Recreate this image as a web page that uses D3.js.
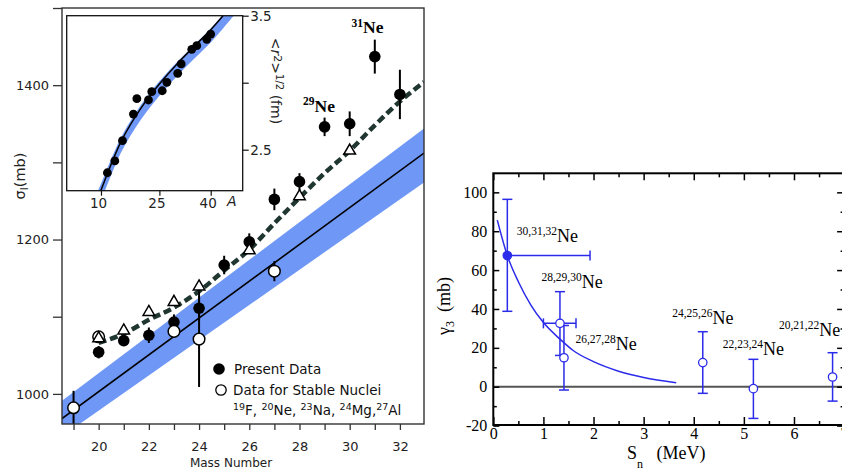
<!DOCTYPE html>
<html><head><meta charset="utf-8">
<script src="https://cdn.jsdelivr.net/npm/d3@7"></script>
<style>body{margin:0;background:#fff}svg{display:block}</style>
</head><body>
<svg id="c" width="842" height="471"></svg>
<script>
// ---------- Left chart data (interaction cross sections) ----------
const presentA     = [20,21,22,23,24,25,26,27,28,29,30,31,32];
const presentSigma = [1054,1069,1076,1093,1111,1167,1197,1252,1275,1346,1350,1437,1388];
const presentErr   = [8,7,10,10,16,12,11,14,11,12,16,22,32];
const stableA      = [19,20,23,24,27];
const stableSigma  = [982,1074,1081,1071,1159];
const stableErr    = [22,6,8,62,13];
const calcA        = [20,21,22,23,24,26,28,30];
const calcSigma    = [1072,1082,1106,1119,1139,1186,1256,1315];
const dashA        = [20,21,22,23,24,25,26,27,28,29,30,31,32,32.96];
const dashSigma    = [1066,1078,1096,1112,1133,1160,1187,1221,1254,1286,1315,1348,1379,1404];
const fitA         = [18.54,32.96];
const fitSigma     = [968,1312];
const bandLow      = [945,1274];
const bandHigh     = [991,1344];
const yTicksL      = [1000,1100,1200,1300,1400,1500];
const yLabelsL     = [1000,1200,1400];
const xTicksL      = [19,20,21,22,23,24,25,26,27,28,29,30,31,32];
const xLabelsL     = [20,22,24,26,28,30,32];

// ---------- Inset data (rms radii) ----------
const insetA = [11.5,13.3,15.2,18.0,18.9,22.0,22.9,25.8,27.1,30.2,31.2,34.3,35.8,38.8,40.0];
const insetR = [2.328,2.416,2.567,2.766,2.881,2.871,2.933,2.940,3.003,3.070,3.140,3.249,3.276,3.324,3.363];
const insetCurveA = [9,10,12,15,20,25,30,35,40,43.8,48];
const insetCurveR = [2.12,2.199,2.36,2.57,2.81,2.99,3.14,3.27,3.395,3.50,3.62];
const insetBandHi = [2.17,2.245,2.40,2.60,2.835,3.01,3.155,3.282,3.405,3.51,3.63];
const insetBandLo = [2.04,2.12,2.28,2.488,2.725,2.902,3.05,3.178,3.30,3.405,3.525];
const insetYTicks = [2.5,3.0,3.5];
const insetYLabels = [2.5,3.5];
const insetXTicks = [10,25,40];

// ---------- Right chart data (gamma_3 vs S_n) ----------
const snVal   = [0.28,1.33,1.41,4.18,5.19,6.77];
const gVal    = [67.5,32.6,14.9,12.4,-1.0,5.0];
const gLo     = [38.8,16.1,-1.7,-3.4,-16.3,-7.4];
const gHi     = [96.4,48.9,31.5,28.3,14.1,17.5];
const snLo    = [0.28,1.00,null,null,null,null];
const snHi    = [1.93,1.65,null,null,null,null];
const filledPt= [true,false,false,false,false,false];
const curveSn = [0.08,0.28,0.5,0.75,1.0,1.33,1.6,2.0,2.5,3.0,3.65];
const curveG  = [85.7,67.4,54,42,33,24.5,18.5,12.9,8,4.8,2.1];
const labelSup= ["30,31,32","28,29,30","26,27,28","24,25,26","22,23,24","20,21,22"];
const labelSn = [0.47,0.96,1.64,3.57,4.58,5.7];
const labelG  = [74.5,51,19,32.5,16.5,26];

const svg = d3.select('#c');
const defs = svg.append('defs');

// ================= LEFT CHART =================
const xL = d3.scaleLinear().domain([18.54,32.96]).range([62,424]);
const yL = d3.scaleLinear().domain([961,1500]).range([424,8]);
defs.append('clipPath').attr('id','clipL').append('rect')
  .attr('x',xL.range()[0]).attr('y',yL.range()[1])
  .attr('width',xL.range()[1]-xL.range()[0]).attr('height',yL.range()[0]-yL.range()[1]);

const gL = svg.append('g').attr('clip-path','url(#clipL)');
const bandData = fitA.map((a,i)=>({a, lo:bandLow[i], hi:bandHigh[i]}));
gL.append('path').datum(bandData)
  .attr('d', d3.area().x(d=>xL(d.a)).y0(d=>yL(d.lo)).y1(d=>yL(d.hi)))
  .attr('fill','#6f97f6');
gL.append('path').datum(fitA.map((a,i)=>[a,fitSigma[i]]))
  .attr('d', d3.line().x(d=>xL(d[0])).y(d=>yL(d[1])))
  .attr('stroke','#000').attr('stroke-width',1.6).attr('fill','none');
gL.append('path').datum(dashA.map((a,i)=>[a,dashSigma[i]]))
  .attr('d', d3.line().x(d=>xL(d[0])).y(d=>yL(d[1])).curve(d3.curveMonotoneX))
  .attr('stroke','#1f3631').attr('stroke-width',4.5).attr('fill','none')
  .attr('stroke-dasharray','8,4');

const errData = presentA.map((a,i)=>({a,s:presentSigma[i],e:presentErr[i]}))
  .concat(stableA.map((a,i)=>({a,s:stableSigma[i],e:stableErr[i]})));
gL.selectAll('line.eb').data(errData).join('line').attr('class','eb')
  .attr('x1',d=>xL(d.a)).attr('x2',d=>xL(d.a))
  .attr('y1',d=>yL(d.s-d.e)).attr('y2',d=>yL(d.s+d.e))
  .attr('stroke','#000').attr('stroke-width',2);

gL.selectAll('circle.pd').data(presentA.map((a,i)=>[a,presentSigma[i]])).join('circle')
  .attr('class','pd').attr('cx',d=>xL(d[0])).attr('cy',d=>yL(d[1])).attr('r',5.8).attr('fill','#000');
gL.selectAll('circle.st').data(stableA.map((a,i)=>[a,stableSigma[i]])).join('circle')
  .attr('class','st').attr('cx',d=>xL(d[0])).attr('cy',d=>yL(d[1])).attr('r',5.8)
  .attr('fill','#fff').attr('stroke','#000').attr('stroke-width',1.5);
gL.selectAll('path.tri').data(calcA.map((a,i)=>[a,calcSigma[i]])).join('path')
  .attr('class','tri')
  .attr('transform',d=>`translate(${xL(d[0])},${yL(d[1])})`)
  .attr('d', d3.symbol(d3.symbolTriangle, 58)())
  .attr('fill','#fff').attr('stroke','#000').attr('stroke-width',1.5);

svg.append('rect').attr('x',62).attr('y',yL(1500)).attr('width',362).attr('height',yL(961)-yL(1500))
  .attr('fill','none').attr('stroke','#333').attr('stroke-width',1.4);
const axL = svg.append('g').attr('transform','translate(62,0)')
  .call(d3.axisLeft(yL).tickValues(yTicksL).tickSize(9).tickPadding(4).tickSizeOuter(0)
    .tickFormat(d=>yLabelsL.includes(d)?String(d):''));
const axB = svg.append('g').attr('transform','translate(0,424)')
  .call(d3.axisBottom(xL).tickValues(xTicksL).tickSize(6).tickPadding(12).tickSizeOuter(0)
    .tickFormat(d=>xLabelsL.includes(d)?String(d):''));
[axL,axB].forEach(a=>{
  a.select('.domain').remove();
  a.selectAll('line').attr('stroke','#333').attr('stroke-width',1.3);
  a.selectAll('text').attr('font-family','DejaVu Sans').attr('font-size',13).attr('fill','#222');
});

svg.append('text').attr('x',231).attr('y',467).attr('text-anchor','middle')
  .attr('font-family','DejaVu Sans').attr('font-size',12).attr('fill','#222').text('Mass Number');
const sl = svg.append('text').attr('transform','translate(25,176) rotate(-90)').attr('text-anchor','middle')
  .attr('font-family','DejaVu Sans').attr('font-size',14.5).attr('fill','#222');
sl.append('tspan').text('σ');
sl.append('tspan').attr('font-size',10).attr('dy',3).text('I');
sl.append('tspan').attr('dy',-3).text('(mb)');

function boldLabel(x,y,sup){
  const t = svg.append('text').attr('x',x).attr('y',y).attr('font-family','Liberation Serif')
    .attr('font-weight','bold').attr('fill','#000');
  t.append('tspan').attr('font-size',11.5).attr('dy',-6.5).text(sup);
  t.append('tspan').attr('font-size',17.5).attr('dy',6.5).text('Ne');
}
boldLabel(351.5,33.3,'31');
boldLabel(303,111.7,'29');

svg.append('circle').attr('cx',219).attr('cy',369).attr('r',5.8).attr('fill','#000');
svg.append('circle').attr('cx',221).attr('cy',390).attr('r',5.2).attr('fill','#fff').attr('stroke','#000').attr('stroke-width',1.3);
const legTxt = (x,y)=>svg.append('text').attr('x',x).attr('y',y).attr('font-family','DejaVu Sans').attr('font-size',13.5).attr('fill','#111');
legTxt(234,374).text('Present Data');
legTxt(233,395).text('Data for Stable Nuclei');
const l3 = legTxt(233,415);
[['19','F, '],['20','Ne, '],['23','Na, '],['24','Mg,'],['27','Al']].forEach(([s,n])=>{
  l3.append('tspan').attr('font-size',9.5).attr('dy',-5).text(s);
  l3.append('tspan').attr('dy',5).text(n);
});

// ================= INSET =================
const ix = d3.scalePow().exponent(0.8).domain([2.84,50]).range([66.7,242.7]);
const iy = d3.scaleLinear().domain([2.194,3.5]).range([190.7,15.7]);
defs.append('clipPath').attr('id','clipI').append('rect')
  .attr('x',66.7).attr('y',15.7).attr('width',176).attr('height',175);
svg.append('rect').attr('x',66.7).attr('y',15.7).attr('width',176).attr('height',175).attr('fill','#fff');
const gI = svg.append('g').attr('clip-path','url(#clipI)');
gI.append('path').datum(insetCurveA.map((a,i)=>({a,lo:insetBandLo[i],hi:insetBandHi[i]})))
  .attr('d', d3.area().x(d=>ix(d.a)).y0(d=>iy(d.lo)).y1(d=>iy(d.hi)).curve(d3.curveCatmullRom))
  .attr('fill','#6f97f6');
gI.append('path').datum(insetCurveA.map((a,i)=>[a,insetCurveR[i]]))
  .attr('d', d3.line().x(d=>ix(d[0])).y(d=>iy(d[1])).curve(d3.curveCatmullRom))
  .attr('stroke','#000').attr('stroke-width',1.5).attr('fill','none');
gI.selectAll('circle').data(insetA.map((a,i)=>[a,insetR[i]])).join('circle')
  .attr('cx',d=>ix(d[0])).attr('cy',d=>iy(d[1])).attr('r',4.4).attr('fill','#000');
svg.append('rect').attr('x',66.7).attr('y',15.7).attr('width',176).attr('height',175)
  .attr('fill','none').attr('stroke','#111').attr('stroke-width',1.3);
const iaR = svg.append('g').attr('transform','translate(242.7,0)')
  .call(d3.axisRight(iy).tickValues(insetYTicks).tickSize(6).tickPadding(1.5).tickSizeOuter(0)
    .tickFormat(d=>insetYLabels.includes(d)?d3.format('.1f')(d):''));
const iaB = svg.append('g').attr('transform','translate(0,190.7)')
  .call(d3.axisBottom(ix).tickValues(insetXTicks).tickSize(5).tickPadding(3).tickSizeOuter(0).tickFormat(d=>String(d)));
[iaR,iaB].forEach(a=>{
  a.select('.domain').remove();
  a.selectAll('line').attr('stroke','#111').attr('stroke-width',1.2);
  a.selectAll('text').attr('font-family','DejaVu Sans').attr('font-size',13.5).attr('fill','#222');
});
iaB.selectAll('text').attr('dx',-3);
svg.append('text').attr('x',227).attr('y',206).attr('font-family','DejaVu Sans').attr('font-style','italic')
  .attr('font-size',14).attr('fill','#222').text('A');
const rl = svg.append('text').attr('transform','translate(271,81) rotate(90)').attr('text-anchor','middle')
  .attr('font-family','DejaVu Sans').attr('font-size',14).attr('fill','#222');
rl.append('tspan').text('<');
rl.append('tspan').attr('font-style','italic').text('r');
rl.append('tspan').attr('font-size',11).attr('dy',-3).text('2');
rl.append('tspan').attr('dy',3).text('>');
rl.append('tspan').attr('font-size',10).attr('dy',-5).text('1/2');
rl.append('tspan').attr('dy',5).text(' (fm)');

// ================= RIGHT CHART =================
const xR = d3.scaleLinear().domain([0,7]).range([493.3,844.1]);
const yR = d3.scaleLinear().domain([-20,110]).range([425.6,172.9]);
const blue = '#2b2bea';
const serif = 'Liberation Serif, Times New Roman, serif';
const gR = svg.append('g');
gR.append('line').attr('x1',xR(0)).attr('x2',xR(7)).attr('y1',yR(0)).attr('y2',yR(0))
  .attr('stroke','#555').attr('stroke-width',2);
gR.append('path').datum(curveSn.map((s,i)=>[s,curveG[i]]))
  .attr('d', d3.line().x(d=>xR(d[0])).y(d=>yR(d[1])).curve(d3.curveMonotoneX))
  .attr('stroke',blue).attr('stroke-width',1.5).attr('fill','none');
const cap = 5;
snVal.forEach((s,i)=>{
  const x = xR(s), y = yR(gVal[i]);
  const eb = gR.append('g').attr('stroke',blue).attr('stroke-width',1.5);
  eb.append('line').attr('x1',x).attr('x2',x).attr('y1',yR(gLo[i])).attr('y2',yR(gHi[i]));
  eb.append('line').attr('x1',x-cap).attr('x2',x+cap).attr('y1',yR(gLo[i])).attr('y2',yR(gLo[i]));
  eb.append('line').attr('x1',x-cap).attr('x2',x+cap).attr('y1',yR(gHi[i])).attr('y2',yR(gHi[i]));
  if (snLo[i]!==null){
    eb.append('line').attr('x1',xR(snLo[i])).attr('x2',xR(snHi[i])).attr('y1',y).attr('y2',y);
    eb.append('line').attr('x1',xR(snLo[i])).attr('x2',xR(snLo[i])).attr('y1',y-cap).attr('y2',y+cap);
    eb.append('line').attr('x1',xR(snHi[i])).attr('x2',xR(snHi[i])).attr('y1',y-cap).attr('y2',y+cap);
  }
});
snVal.forEach((s,i)=>{
  gR.append('circle').attr('cx',xR(s)).attr('cy',yR(gVal[i])).attr('r',4.2)
    .attr('fill',filledPt[i]?blue:'#fff').attr('stroke',blue).attr('stroke-width',1.3);
});
svg.append('rect').attr('x',xR(0)).attr('y',173.3).attr('width',xR(7)-xR(0)).attr('height',425-173.3)
  .attr('fill','none').attr('stroke','#000').attr('stroke-width',2);
const fmt = d=>String(d);
const rAxes = [];
rAxes.push(svg.append('g').attr('transform','translate(0,425)')
  .call(d3.axisBottom(xR).tickValues(d3.range(0,8)).tickSize(-8).tickPadding(2.5).tickSizeOuter(0).tickFormat(fmt)));
rAxes.push(svg.append('g').attr('transform','translate(0,425)')
  .call(d3.axisBottom(xR).tickValues(d3.range(0.5,7,1)).tickSize(-4).tickSizeOuter(0).tickFormat('')));
rAxes.push(svg.append('g').attr('transform','translate(0,173.3)')
  .call(d3.axisTop(xR).tickValues(d3.range(0,8)).tickSize(-7).tickSizeOuter(0).tickFormat('')));
rAxes.push(svg.append('g').attr('transform','translate(0,173.3)')
  .call(d3.axisTop(xR).tickValues(d3.range(0.5,7,1)).tickSize(-4).tickSizeOuter(0).tickFormat('')));
rAxes.push(svg.append('g').attr('transform',`translate(${xR(0)},0)`)
  .call(d3.axisLeft(yR).tickValues(d3.range(-20,101,20)).tickSize(-6).tickPadding(6).tickSizeOuter(0).tickFormat(fmt)));
rAxes.push(svg.append('g').attr('transform',`translate(${xR(0)},0)`)
  .call(d3.axisLeft(yR).tickValues(d3.range(-10,110,20)).tickSize(-3.5).tickSizeOuter(0).tickFormat('')));
rAxes.push(svg.append('g').attr('transform',`translate(${xR(7)},0)`)
  .call(d3.axisRight(yR).tickValues(d3.range(-20,101,20)).tickSize(-7).tickSizeOuter(0).tickFormat('')));
rAxes.push(svg.append('g').attr('transform',`translate(${xR(7)},0)`)
  .call(d3.axisRight(yR).tickValues(d3.range(-10,110,20)).tickSize(-3.5).tickSizeOuter(0).tickFormat('')));
rAxes.forEach(a=>{
  a.attr('font-family',serif);
  a.select('.domain').remove();
  a.selectAll('line').attr('stroke','#000').attr('stroke-width',1.5);
  a.selectAll('text').attr('font-family',serif).attr('font-size',16).attr('fill','#000');
});

labelSup.forEach((s,i)=>{
  const t = svg.append('text').attr('x',xR(labelSn[i])).attr('y',yR(labelG[i]))
    .attr('font-family',serif).attr('fill','#000');
  t.append('tspan').attr('font-size',11.5).attr('dy',-7).text(s);
  t.append('tspan').attr('font-size',18).attr('dy',7).text('Ne');
});

const gl = svg.append('text').attr('transform','translate(450,306) rotate(-90)').attr('text-anchor','middle')
  .attr('font-family',serif).attr('font-size',18).attr('fill','#000');
gl.append('tspan').text('γ');
gl.append('tspan').attr('font-size',12).attr('dy',4).text('3');
gl.append('tspan').attr('dy',-4).text('\u00a0\u00a0(mb)');
const xl = svg.append('text').attr('x',627).attr('y',458.5)
  .attr('font-family',serif).attr('font-size',18).attr('fill','#000');
xl.append('tspan').text('S');
xl.append('tspan').attr('font-size',12).attr('dy',9).text('n');
xl.append('tspan').attr('dy',-9).text('\u00a0\u00a0\u00a0(MeV)');
</script>
</body></html>
